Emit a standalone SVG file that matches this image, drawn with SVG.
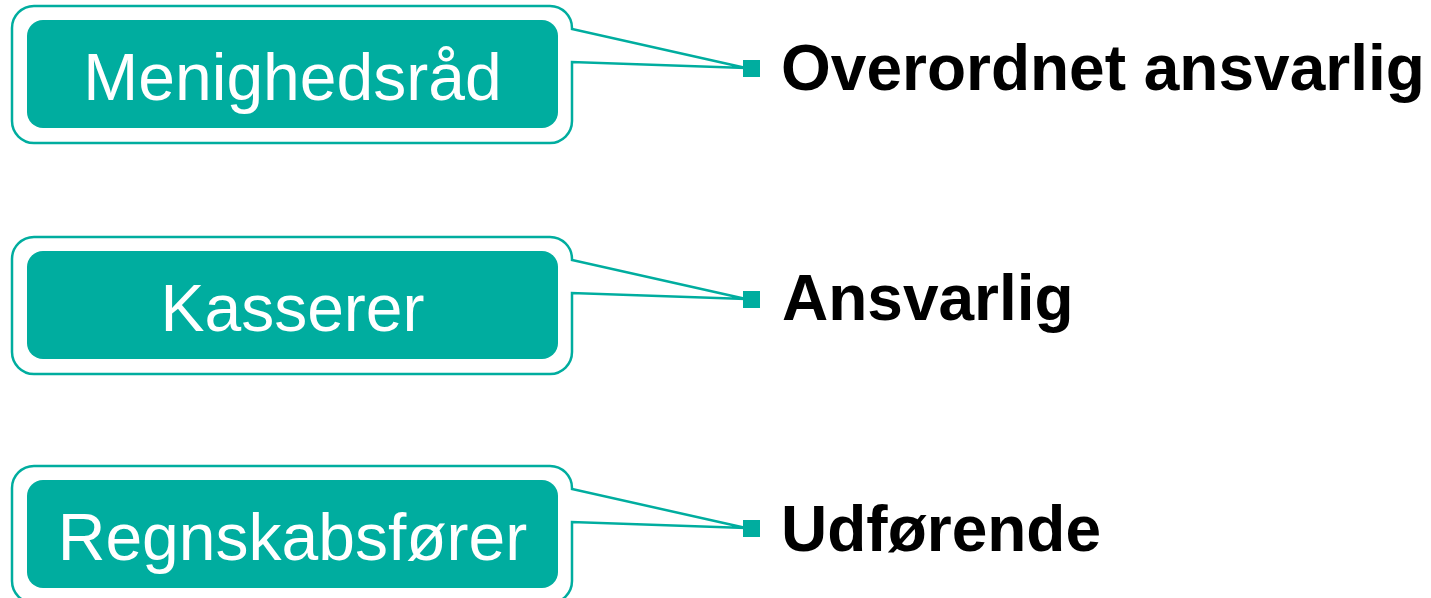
<svg xmlns="http://www.w3.org/2000/svg" width="1431" height="598" viewBox="0 0 1431 598">
<style>
.callout{fill:#ffffff;stroke:#00ad9f;stroke-width:2.5;stroke-linejoin:miter}
.box{fill:#00ad9f}
.dot{fill:#00ad9f}
.name{font-family:"Liberation Sans",Arial,sans-serif;font-size:66px;fill:#ffffff;text-anchor:middle}
.role{font-family:"Liberation Sans",Arial,sans-serif;font-size:64px;font-weight:bold;fill:#000000}
</style>
<defs>
<path id="shape" d="M34,6 H550 A22,22 0 0 1 572,28 V29 L746,68 L572,62 V121 A22,22 0 0 1 550,143 H34 A22,22 0 0 1 12,121 V28 A22,22 0 0 1 34,6 Z"/>
</defs>
<g id="connectors">
<use href="#shape" class="callout"/>
<use href="#shape" class="callout" transform="translate(0,231)"/>
<use href="#shape" class="callout" transform="translate(0,460)"/>
<rect class="dot" x="743" y="60" width="17" height="17"/>
<rect class="dot" x="743" y="291" width="17" height="17"/>
<rect class="dot" x="743" y="520" width="17" height="17"/>
</g>
<g id="node-menighedsraad">
<rect class="box" x="27" y="20" width="531" height="108" rx="16"/>
<text class="name" x="292.5" y="100">Menighedsråd</text>
</g>
<g id="node-kasserer">
<rect class="box" x="27" y="251" width="531" height="108" rx="16"/>
<text class="name" x="292.5" y="331">Kasserer</text>
</g>
<g id="node-regnskabsforer">
<rect class="box" x="27" y="480" width="531" height="108" rx="16"/>
<text class="name" x="292.5" y="560">Regnskabsfører</text>
</g>
<g id="label-overordnet">
<text class="role" x="781" y="90">Overordnet ansvarlig</text>
</g>
<g id="label-ansvarlig">
<text class="role" x="782" y="320">Ansvarlig</text>
</g>
<g id="label-udforende">
<text class="role" x="781" y="551">Udførende</text>
</g>
</svg>
